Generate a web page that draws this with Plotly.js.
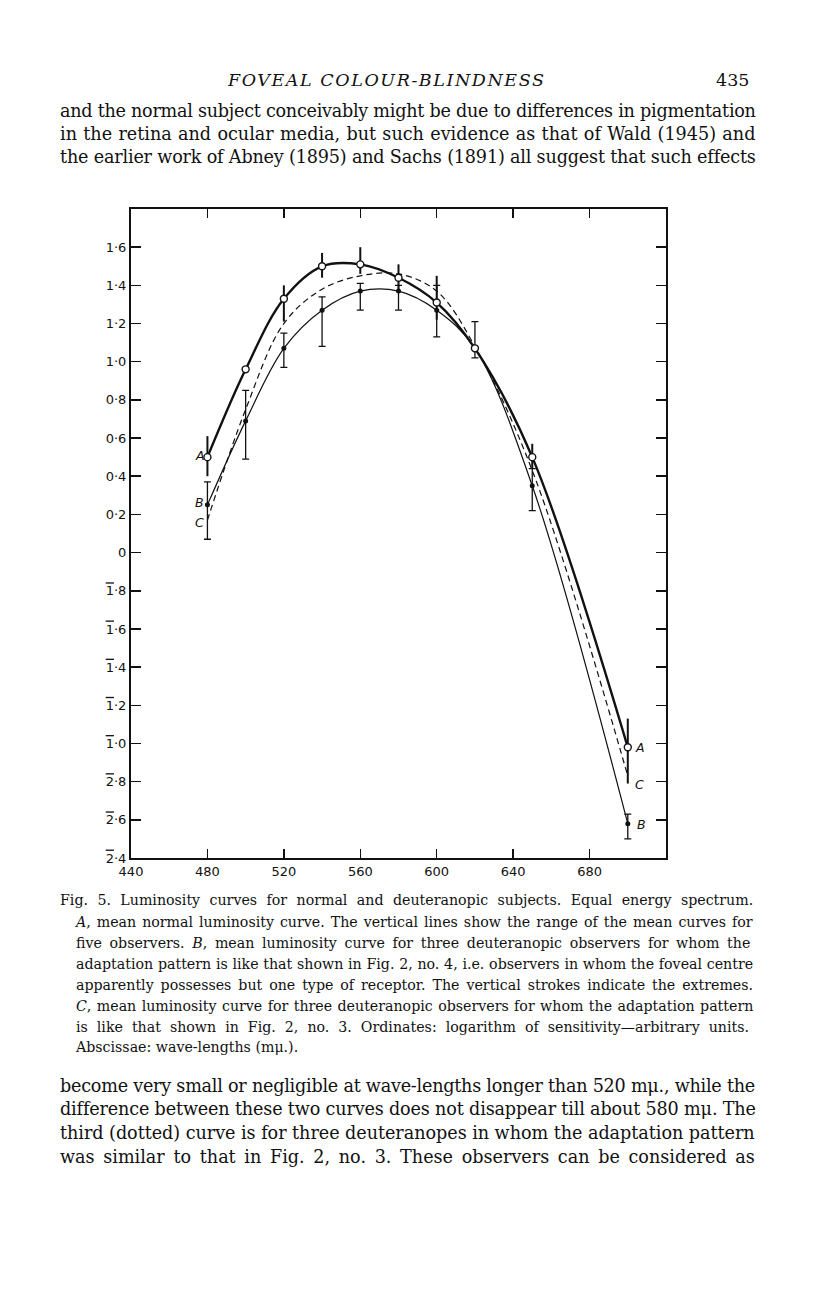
<!DOCTYPE html>
<html>
<head>
<meta charset="utf-8">
<script src="https://cdn.plot.ly/plotly-3.0.1.min.js"></script>
<style>
  html, body { margin: 0; padding: 0; background: #fff; }
  #page { position: relative; width: 816px; height: 1296px; overflow: hidden; background: #fff; }
  #chart { position: absolute; left: 0; top: 0; width: 816px; height: 1296px; }
  .ln { position: absolute; white-space: nowrap; font-family: "DejaVu Serif", "Liberation Serif", serif; color: #111; }
  .p { font-size: 17.6px; }
  .c { font-size: 14.2px; }
</style>
</head>
<body>
<div id="page">
  <div id="chart"></div>
</div>
<script>
// ---------------- data ----------------
const wavelengths = [480, 500, 520, 540, 560, 580, 600, 620, 650, 700];

// Curve A: mean normal luminosity curve (open circles, heavy line)
const curveA = [0.50, 0.96, 1.33, 1.50, 1.51, 1.44, 1.31, 1.07, 0.50, -1.02];
const rangeA_low  = [0.40, 0.96, 1.21, 1.44, 1.46, 1.38, 1.22, 1.07, 0.44, -1.21];
const rangeA_high = [0.61, 0.96, 1.40, 1.57, 1.60, 1.51, 1.45, 1.07, 0.57, -0.87];

// Curve B: deuteranopes, Fig. 2 no. 4 (filled dots, thin line)
const curveB = [0.25, 0.69, 1.07, 1.27, 1.37, 1.37, 1.27, 1.07, 0.35, -1.42];
const rangeB_low  = [0.07, 0.49, 0.97, 1.08, 1.27, 1.27, 1.13, 1.02, 0.22, -1.50];
const rangeB_high = [0.37, 0.85, 1.15, 1.34, 1.41, 1.40, 1.40, 1.21, 0.44, -1.37];

// Curve C: deuteranopes, Fig. 2 no. 3 (dashed)
const curveC = [0.17, 0.75, 1.20, 1.38, 1.45, 1.46, 1.37, 1.08, 0.43, -1.17];

// Axis ticks (bar characteristic notation for negative logarithms)
const xTickVals = [440, 480, 520, 560, 600, 640, 680];
const xTickText = ["440", "480", "520", "560", "600", "640", "680"];
const yTickVals = [1.6, 1.4, 1.2, 1.0, 0.8, 0.6, 0.4, 0.2, 0, -0.2, -0.4, -0.6, -0.8, -1.0, -1.2, -1.4, -1.6];
const OB = "<span style='text-decoration:overline'>";
const yTickText = ["1·6", "1·4", "1·2", "1·0", "0·8", "0·6", "0·4", "0·2", "0",
                   OB + "1</span>·8", OB + "1</span>·6", OB + "1</span>·4", OB + "1</span>·2", OB + "1</span>·0",
                   OB + "2</span>·8", OB + "2</span>·6", OB + "2</span>·4"];

// Curve labels
const labelText = ["A", "B", "C", "A", "C", "B"];
const labelX = [476, 476, 476, 706.5, 706, 707];
const labelY = [0.51, 0.26, 0.16, -1.02, -1.215, -1.425];

// Page text
const headerTitle = "FOVEAL COLOUR-BLINDNESS";
const pageNumber = "435";
const paraTop = [
  "and the normal subject conceivably might be due to differences in pigmentation",
  "in the retina and ocular media, but such evidence as that of Wald (1945) and",
  "the earlier work of Abney (1895) and Sachs (1891) all suggest that such effects"
];
const captionLines = [
  "Fig. 5. Luminosity curves for normal and deuteranopic subjects. Equal energy spectrum.",
  "<i>A</i>, mean normal luminosity curve. The vertical lines show the range of the mean curves for",
  "five observers.  <i>B</i>, mean luminosity curve for three deuteranopic observers for whom the",
  "adaptation pattern is like that shown in Fig. 2, no. 4, i.e. observers in whom the foveal centre",
  "apparently possesses but one type of receptor. The vertical strokes indicate the extremes.",
  "<i>C</i>, mean luminosity curve for three deuteranopic observers for whom the adaptation pattern",
  "is like that shown in Fig. 2, no. 3.  Ordinates: logarithm of sensitivity\u2014arbitrary units.",
  "Abscissae: wave-lengths (m\u03bc.)."
];
const paraBottom = [
  "become very small or negligible at wave-lengths longer than 520 m\u03bc., while the",
  "difference between these two curves does not disappear till about 580 m\u03bc. The",
  "third (dotted) curve is for three deuteranopes in whom the adaptation pattern",
  "was similar to that in Fig. 2, no. 3. These observers can be considered as"
];

// ---------------- chart ----------------
function diff(a, b) { return a.map((v, i) => v - b[i]); }

const traceC = {
  x: wavelengths, y: curveC, type: "scatter", mode: "lines",
  line: { color: "#111", width: 1.2, dash: "6px,4px", shape: "spline", smoothing: 1 },
  hoverinfo: "skip", showlegend: false
};
const traceB = {
  x: wavelengths, y: curveB, type: "scatter", mode: "lines+markers",
  line: { color: "#111", width: 1.2, shape: "spline", smoothing: 1 },
  marker: { color: "#111", size: 5, symbol: "circle" },
  error_y: { type: "data", symmetric: false,
             array: diff(rangeB_high, curveB), arrayminus: diff(curveB, rangeB_low),
             color: "#111", thickness: 1.3, width: 3.5 },
  showlegend: false
};
const traceA = {
  x: wavelengths, y: curveA, type: "scatter", mode: "lines+markers",
  line: { color: "#111", width: 2.4, shape: "spline", smoothing: 1 },
  marker: { color: "#fff", size: 7, symbol: "circle", line: { color: "#111", width: 1.4 } },
  error_y: { type: "data", symmetric: false,
             array: diff(rangeA_high, curveA), arrayminus: diff(curveA, rangeA_low),
             color: "#111", thickness: 2, width: 0 },
  showlegend: false
};

const annotations = labelText.map((t, i) => ({
  x: labelX[i], y: labelY[i], xref: "x", yref: "y", text: t, showarrow: false,
  xanchor: "center", yanchor: "middle",
  font: { family: "DejaVu Sans, sans-serif", size: 12.5, color: "#111", style: "italic" }
}));

const layout = {
  width: 816, height: 1296,
  margin: { l: 131, r: 150, t: 209, b: 438, pad: 0 },
  paper_bgcolor: "rgba(0,0,0,0)", plot_bgcolor: "rgba(0,0,0,0)",
  showlegend: false,
  xaxis: {
    range: [440, 720], tickvals: xTickVals, ticktext: xTickText,
    showline: true, linecolor: "#111", linewidth: 2, mirror: "ticks",
    ticks: "inside", ticklen: 9, tickwidth: 1.5, tickcolor: "#111",
    showgrid: false, zeroline: false,
    tickfont: { family: "DejaVu Sans, sans-serif", size: 13, color: "#111" }
  },
  yaxis: {
    range: [-1.6, 1.8], tickvals: yTickVals, ticktext: yTickText,
    showline: true, linecolor: "#111", linewidth: 2, mirror: "ticks",
    ticks: "inside", ticklen: 10, tickwidth: 1.5, tickcolor: "#111",
    showgrid: false, zeroline: false,
    tickfont: { family: "DejaVu Sans, sans-serif", size: 13, color: "#111" }
  },
  annotations: annotations
};

Plotly.newPlot("chart", [traceC, traceB, traceA], layout, { staticPlot: true, displayModeBar: false });

// ---------------- page text ----------------
const page = document.getElementById("page");
function addLine(html, cls, left, centerY, width, justify, extraStyle) {
  const d = document.createElement("div");
  d.className = "ln " + cls;
  d.innerHTML = html;
  if (extraStyle) Object.assign(d.style, extraStyle);
  page.appendChild(d);
  const h = d.offsetHeight;
  d.style.left = left + "px";
  d.style.top = (centerY - h / 2) + "px";
  if (justify) {
    const natural = d.scrollWidth;
    const spaces = (d.textContent.match(/ /g) || []).length;
    const extra = width - natural;
    if (extra >= 0 && spaces > 0) {
      d.style.wordSpacing = (extra / spaces) + "px";
    } else if (extra < 0) {
      const chars = d.textContent.length;
      d.style.letterSpacing = (extra / chars) + "px";
    }
  }
  return d;
}
// header
const hd = addLine(headerTitle, "p", 228, 80, 317, false, { fontStyle: "italic", fontSize: "17.5px" });
(function () {
  const nat = hd.scrollWidth, chars = headerTitle.length;
  hd.style.letterSpacing = ((317 - nat) / chars) + "px";
})();
addLine(pageNumber, "p", 716, 80, 0, false, { fontSize: "17.5px" });

const paraTopY = [111, 134, 157];
paraTop.forEach((t, i) => addLine(t, "p", 60, paraTopY[i], 695, true));

const capY = [900, 922, 943, 964, 985, 1006, 1027, 1047];
captionLines.forEach((t, i) => {
  const left = i === 0 ? 60 : 76;
  const width = i === 0 ? 693 : 677;
  addLine(t, "c", left, capY[i], width, i < captionLines.length - 1);
});

const paraBotY = [1086, 1109, 1133, 1157];
paraBottom.forEach((t, i) => addLine(t, "p", 60, paraBotY[i], 695, true));
</script>
</body>
</html>
